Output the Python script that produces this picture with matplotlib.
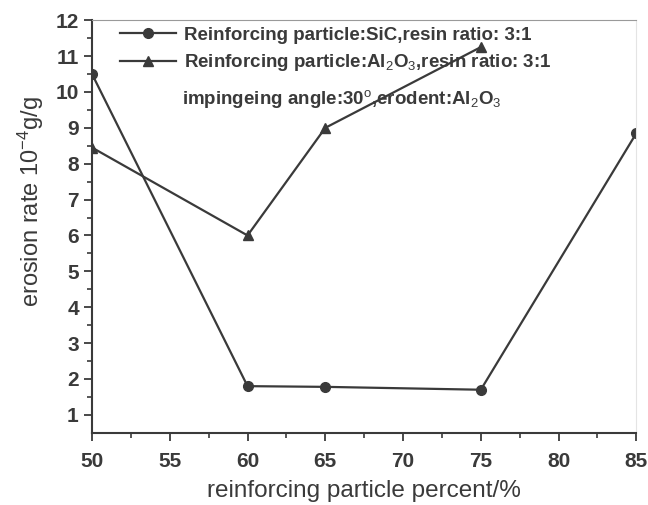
import numpy as np
import matplotlib.pyplot as plt

# erosion rate (10^-4 g/g) vs. reinforcing particle content
pct_sic = [50, 60, 65, 75, 85]
rate_sic = [10.5, 1.8, 1.78, 1.7, 8.85]

pct_al2o3 = [50, 60, 65, 75]
rate_al2o3 = [8.45, 6.0, 9.0, 11.25]

lab_sic = "Reinforcing particle:SiC,resin ratio: 3:1"
lab_al2o3 = "Reinforcing particle:Al$_2$O$_3$,resin ratio: 3:1"
note = "impingeing angle:30$^o$,erodent:Al$_2$O$_3$"

ink = "#3a3a3a"
plt.rcParams['font.family'] = ['Liberation Sans', 'DejaVu Sans']
plt.rcParams['mathtext.fontset'] = 'custom'
plt.rcParams['mathtext.rm'] = 'Liberation Sans'
plt.rcParams['mathtext.it'] = 'Liberation Sans'
plt.rcParams['mathtext.bf'] = 'Liberation Sans:bold'

fig = plt.figure(figsize=(6.48, 5.05), dpi=100)
ax = fig.add_axes([0.142, 0.143, 0.840, 0.817])

ax.plot(pct_sic, rate_sic, "-o", color=ink, linewidth=1.6, markersize=7, label=lab_sic)
ax.plot(pct_al2o3, rate_al2o3, "-^", color=ink, linewidth=1.6, markersize=7, label=lab_al2o3)

ax.set_xlim(50, 85)
ax.set_ylim(0.5, 12)
ax.set_xticks(np.arange(50, 86, 5))
ax.set_xticks(np.arange(50, 86, 2.5), minor=True)
ax.set_yticks(np.arange(1, 13, 1))
ax.set_yticks(np.arange(1, 12.1, 0.5), minor=True)
ax.tick_params(which="major", length=6, width=1.3, color=ink, labelcolor=ink, labelsize=15)
ax.tick_params(axis="x", which="major", pad=8)
ax.tick_params(which="minor", length=3.5, width=1.2, color=ink)
for lbl in ax.get_xticklabels() + ax.get_yticklabels():
	lbl.set_fontweight("bold")

ax.spines["left"].set_color(ink)
ax.spines["bottom"].set_color(ink)
ax.spines["left"].set_linewidth(1.5)
ax.spines["bottom"].set_linewidth(1.5)
ax.spines["top"].set_color("#9a9a9a")
ax.spines["right"].set_color("#e4e4e4")

ax.set_xlabel("reinforcing particle percent/%", fontsize=17.5, color=ink, labelpad=6)
ax.set_ylabel("erosion rate 10$^{-4}$g/g", fontsize=17, color=ink)
ax.yaxis.set_label_coords(-0.085, 0.56)

leg = ax.legend(loc="upper left", bbox_to_anchor=(0.02, 1.025), frameon=False,
	fontsize=13.5, handlelength=3.0, handletextpad=0.4, labelspacing=0.45)
for t in leg.get_texts():
	t.set_color(ink)
	t.set_fontweight("bold")
ax.text(0.165, 0.81, note, transform=ax.transAxes, fontsize=13.5, color=ink,
	fontweight="bold", va="center")

plt.savefig("out.png")
